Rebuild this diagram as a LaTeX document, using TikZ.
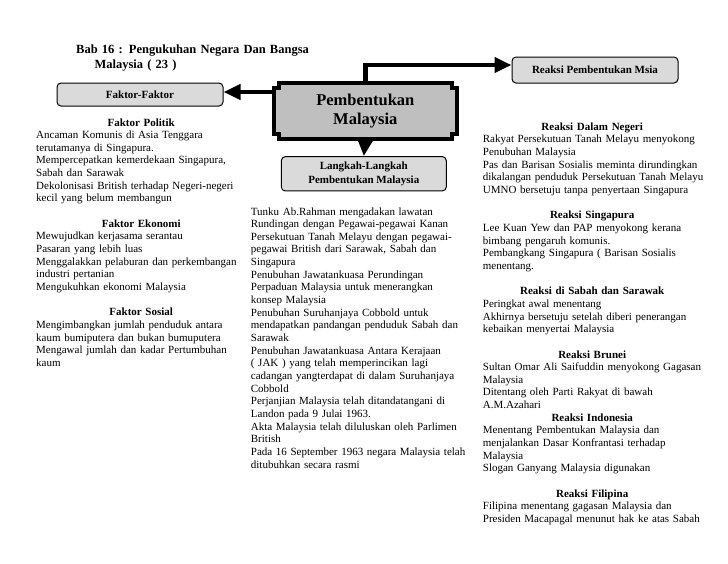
\documentclass[tikz,border=0pt]{standalone}
\usepackage{fontspec}
\setmainfont{Liberation Serif}
\usetikzlibrary{arrows.meta,calc,backgrounds}
\definecolor{boxgray}{HTML}{DADADA}
\definecolor{maingray}{HTML}{BFBFBF}
\begin{document}
\begin{tikzpicture}[x=1pt,y=-1pt,
  conn/.style={line width=4.5pt,line join=miter,-{Triangle[length=17pt,width=15pt]}},
  tagbox/.style={draw=black,line width=1pt,fill=boxgray,rounded corners=4pt,inner sep=0pt,
    font=\bfseries\fontsize{11}{14}\selectfont,align=center},
  coltext/.style={anchor=base west,inner sep=0pt,text width=240pt,align=left,
    font=\fontsize{11}{12.65}\selectfont},
]
\useasboundingbox (0,0) rectangle (728,563);

% central box
\node[minimum width=182.7pt,minimum height=56pt,inner sep=0pt,align=center,
  font=\bfseries\fontsize{16.5}{19.3}\selectfont] (c) at (365.3,111) {Pembentukan\\Malaysia};
\begin{scope}[on background layer]
\fill[white] (0,0) rectangle (728,563);
\def\nn{5}
\draw[line width=4pt,fill=maingray,line join=miter]
 ($(c.north west)+(\nn,0)$) -- ($(c.north east)+(-\nn,0)$) -- ($(c.north east)+(-\nn,\nn)$)
 -- ($(c.north east)+(0,\nn)$) -- ($(c.south east)+(0,-\nn)$) -- ($(c.south east)+(-\nn,-\nn)$)
 -- ($(c.south east)+(-\nn,0)$) -- ($(c.south west)+(\nn,0)$) -- ($(c.south west)+(\nn,-\nn)$)
 -- ($(c.south west)+(0,-\nn)$) -- ($(c.north west)+(0,\nn)$) -- ($(c.north west)+(\nn,\nn)$) -- cycle;
\end{scope}

% title
\node[anchor=base west,inner sep=0pt,text width=260pt,align=left,
  font=\bfseries\fontsize{12.5}{15.7}\selectfont] (title) at (76,53)
  {Bab 16 : Pengukuhan Negara Dan Bangsa\\\hspace*{18.3pt}Malaysia ( 23 )};

% label boxes
\node[tagbox,minimum width=166pt,minimum height=23pt] (f) at (140,94.5) {Faktor-Faktor};
\node[tagbox,minimum width=166pt,minimum height=26pt] (r) at (595,70) {Reaksi Pembentukan Msia};
\node[tagbox,minimum width=165pt,minimum height=34.3pt] (l) at (363.8,173.8) {Langkah-Langkah\\Pembentukan Malaysia};

% connectors
\coordinate (tj) at (365.3,65);
\coordinate (lj) at (300,92);
\draw[conn] (c.north) -- (tj) -- (tj -| r.west);
\draw[conn] (lj -| c.west) -- (lj -| f.east);
\draw[conn] (c.south) -- (l.north);

% left column
\node[coltext] (lefttxt) at (36,126) {%
\makebox[210pt]{\textbf{Faktor Politik}}\\
Ancaman Komunis di Asia Tenggara\\
terutamanya di Singapura.\\
Mempercepatkan kemerdekaan Singapura,\\
Sabah dan Sarawak\\
Dekolonisasi British terhadap Negeri-negeri\\
kecil yang belum membangun\\[12.65pt]
\makebox[210pt]{\textbf{Faktor Ekonomi}}\\
Mewujudkan kerjasama serantau\\
Pasaran yang lebih luas\\
Menggalakkan pelaburan dan perkembangan\\
industri pertanian\\
Mengukuhkan ekonomi Malaysia\\[12.65pt]
\makebox[210pt]{\textbf{Faktor Sosial}}\\
Mengimbangkan jumlah penduduk antara\\
kaum bumiputera dan bukan bumuputera\\
Mengawal jumlah dan kadar Pertumbuhan\\
kaum};

% middle column
\node[coltext] (midtxt) at (250.7,215) {%
Tunku Ab.Rahman mengadakan lawatan\\
Rundingan dengan Pegawai-pegawai Kanan\\
Persekutuan Tanah Melayu dengan pegawai-\\
pegawai British dari Sarawak, Sabah dan\\
Singapura\\
Penubuhan Jawatankuasa Perundingan\\
Perpaduan Malaysia untuk menerangkan\\
konsep Malaysia\\
Penubuhan Suruhanjaya Cobbold untuk\\
mendapatkan pandangan penduduk Sabah dan\\
Sarawak\\
Penubuhan Jawatankuasa Antara Kerajaan\\
( JAK ) yang telah memperincikan lagi\\
cadangan yangterdapat di dalam Suruhanjaya\\
Cobbold\\
Perjanjian Malaysia telah ditandatangani di\\
Landon pada 9 Julai 1963.\\
Akta Malaysia telah diluluskan oleh Parlimen\\
British\\
Pada 16 September 1963 negara Malaysia telah\\
ditubuhkan secara rasmi};

% right column
\node[coltext] (righttxt) at (482.7,130.3) {%
\makebox[218.6pt]{\textbf{Reaksi Dalam Negeri}}\\
Rakyat Persekutuan Tanah Melayu menyokong\\
Penubuhan Malaysia\\
Pas dan Barisan Sosialis meminta dirundingkan\\
dikalangan penduduk Persekutuan Tanah Melayu\\
UMNO bersetuju tanpa penyertaan Singapura\\[12.65pt]
\makebox[218.6pt]{\textbf{Reaksi Singapura}}\\
Lee Kuan Yew dan PAP menyokong kerana\\
bimbang pengaruh komunis.\\
Pembangkang Singapura ( Barisan Sosialis\\
menentang.\\[12.65pt]
\makebox[218.6pt]{\textbf{Reaksi di Sabah dan Sarawak}}\\
Peringkat awal menentang\\
Akhirnya bersetuju setelah diberi penerangan\\
kebaikan menyertai Malaysia\\[12.65pt]
\makebox[218.6pt]{\textbf{Reaksi Brunei}}\\
Sultan Omar Ali Saifuddin menyokong Gagasan\\
Malaysia\\
Ditentang oleh Parti Rakyat di bawah\\
A.M.Azahari\\
\makebox[218.6pt]{\textbf{Reaksi Indonesia}}\\
Menentang Pembentukan Malaysia dan\\
menjalankan Dasar Konfrantasi terhadap\\
Malaysia\\
Slogan Ganyang Malaysia digunakan\\[12.65pt]
\makebox[218.6pt]{\textbf{Reaksi Filipina}}\\
Filipina menentang gagasan Malaysia dan\\
Presiden Macapagal menunut hak ke atas Sabah};
\end{tikzpicture}
\end{document}
